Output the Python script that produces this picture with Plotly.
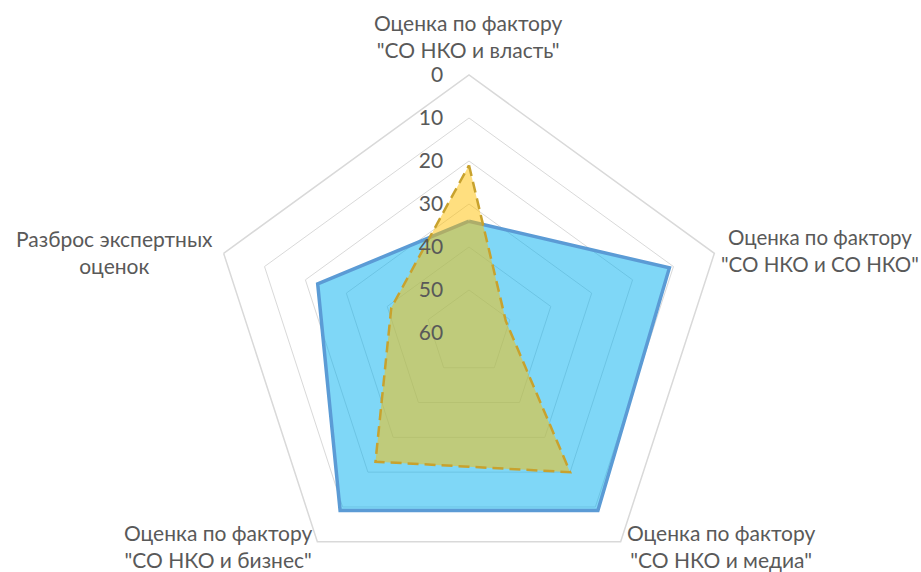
import plotly.graph_objects as go

categories = [
    'Оценка по фактору "СО НКО и власть"',
    'Оценка по фактору "СО НКО и СО НКО"',
    'Оценка по фактору "СО НКО и медиа"',
    'Оценка по фактору "СО НКО и бизнес"',
    'Разброс экспертных оценок',
]
category_labels = [
    'Оценка по фактору<br>"СО НКО и власть"',
    'Оценка по фактору<br>"СО НКО и СО НКО"',
    'Оценка по фактору<br>"СО НКО и медиа"',
    'Оценка по фактору<br>"СО НКО и бизнес"',
    'Разброс экспертных<br>оценок',
]
series_blue = [34, 11, 9, 9, 23]
series_yellow = [21, 51, 20, 23, 41]
radial_ticks = [0, 10, 20, 30, 40, 50, 60]

W, H = 921, 600          # figure slightly taller than the 572 window
cx, cy, R = 469, 333, 258

fig = go.Figure()
fig.add_trace(go.Scatterpolar(
    r=series_blue + series_blue[:1],
    theta=categories + categories[:1],
    mode='lines', fill='toself',
    fillcolor='rgba(0,176,240,0.5)',
    line=dict(color='#5b9bd5', width=3.5),
    hoverinfo='skip', showlegend=False,
))
fig.add_trace(go.Scatterpolar(
    r=series_yellow + series_yellow[:1],
    theta=categories + categories[:1],
    mode='lines', fill='toself',
    fillcolor='rgba(255,192,0,0.5)',
    line=dict(color='#c8a22e', width=2.5, dash='11px,6px'),
    hoverinfo='skip', showlegend=False,
))

# category label placement (pixel anchor, xanchor, font size)
label_pos = [
    (468, 36, 'center', 21),
    (719, 250, 'left', 20.5),
    (625, 546, 'left', 21),
    (314, 546, 'right', 21),
    (215, 252, 'right', 21),
]
annotations = []
for text, (px, py, xa, fs) in zip(category_labels, label_pos):
    annotations.append(dict(
        text=text, x=px / W, y=1 - py / H, xref='paper', yref='paper',
        xanchor=xa, yanchor='middle', align='center', showarrow=False,
        font=dict(family='Lato', size=fs, color='#595959'),
    ))

fig.update_layout(
    width=W, height=H,
    margin=dict(l=0, r=0, t=0, b=0),
    paper_bgcolor='white', plot_bgcolor='white',
    font=dict(family='Lato', color='#595959', size=20),
    annotations=annotations,
    polar=dict(
        domain=dict(x=[(cx - R) / W, (cx + R) / W],
                    y=[1 - (cy + R) / H, 1 - (cy - R) / H]),
        gridshape='linear',
        bgcolor='white',
        radialaxis=dict(
            range=[60, 0], tickvals=radial_ticks,
            ticktext=[str(v) for v in radial_ticks],
            angle=90, side='counterclockwise', tickangle=90,
            showline=False, ticks='outside', ticklen=18,
            tickcolor='rgba(0,0,0,0)',
            gridcolor='#d9d9d9', gridwidth=1.2,
            tickfont=dict(family='Lato', size=21, color='#595959'),
        ),
        angularaxis=dict(
            rotation=90, direction='clockwise',
            showgrid=False, showline=True, showticklabels=False,
            linecolor='#d9d9d9', linewidth=1.5, ticks='',
        ),
    ),
)

fig.write_html(
    "out.html",
    config={'displayModeBar': False},
    post_script="document.documentElement.style.overflow='hidden';"
                "document.body.style.overflow='hidden';"
                "document.body.style.margin='0';",
)
